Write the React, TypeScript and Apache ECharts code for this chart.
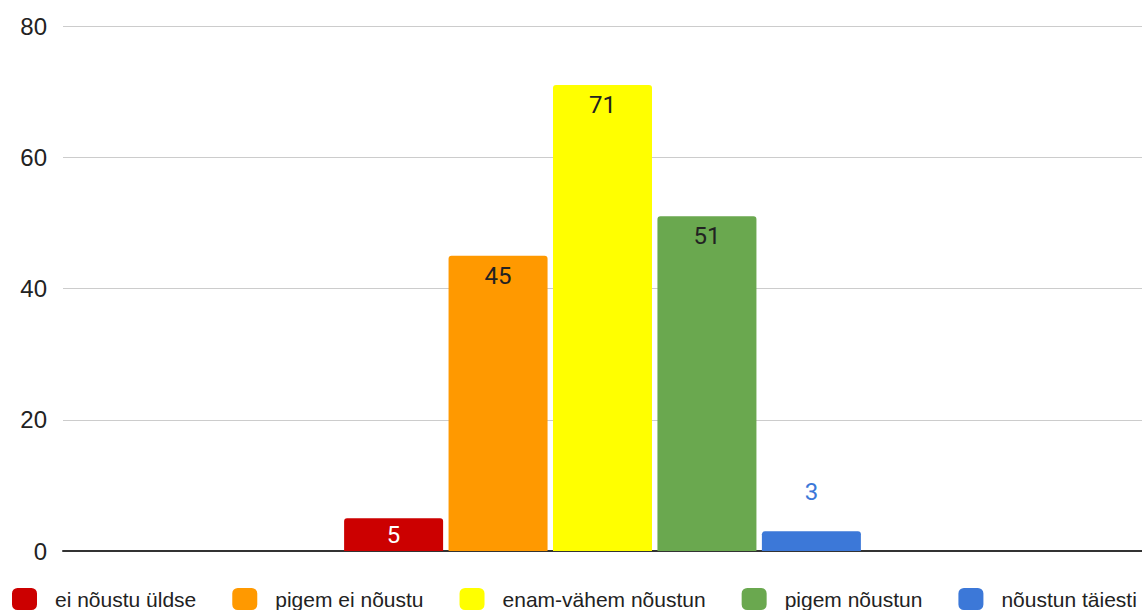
import React, { useEffect, useRef } from "react";
import * as echarts from "echarts";

const categories = [""];
const seriesNames = ["ei nõustu üldse", "pigem ei nõustu", "enam-vähem nõustun", "pigem nõustun", "nõustun täiesti"];
const seriesValues = [5, 45, 71, 51, 3];
const seriesColors = ["#cc0000", "#ff9900", "#ffff00", "#6aa84f", "#3c78d8"];
const labelColors = ["#ffffff", "#222222", "#222222", "#222222", "#3c78d8"];
const labelPositions = ["inside", "insideTop", "insideTop", "insideTop", "top"];

export default function App() {
  const ref = useRef<HTMLDivElement>(null);
  useEffect(() => {
    const chart = echarts.init(ref.current!, null, { renderer: "svg" });
    chart.setOption({
      animation: false,
      grid: { left: 63, right: 0, top: 26, bottom: 59 },
      legend: {
        top: 588,
        left: 12,
        padding: 0,
        itemWidth: 25,
        itemHeight: 22,
        itemGap: 36,
        icon: "roundRect",
        textStyle: { fontFamily: "'Liberation Sans', Arial, sans-serif", fontSize: 21, color: "#222", padding: [0, 0, 0, 13] },
        data: seriesNames,
      },
      xAxis: {
        type: "category",
        data: categories,
        axisLine: { lineStyle: { color: "#333", width: 2 } },
        axisTick: { show: false },
        axisLabel: { show: false },
      },
      yAxis: {
        type: "value",
        min: 0,
        max: 80,
        interval: 20,
        axisLine: { show: false },
        axisTick: { show: false },
        axisLabel: { fontFamily: "'Liberation Sans', Arial, sans-serif", fontSize: 24, color: "#222", margin: 16 },
        splitLine: { lineStyle: { color: "#cccccc", width: 1 } },
      },
      series: seriesNames.map((name, i) => ({
        name,
        type: "bar",
        data: [seriesValues[i]],
        barWidth: 99,
        barGap: "5.5%",
        itemStyle: { color: seriesColors[i], borderRadius: [3, 3, 0, 0] },
        label: {
          show: true,
          position: labelPositions[i],
          distance: labelPositions[i] === "top" ? 27 : 8,
          fontFamily: "Roboto",
          fontSize: 24,
          color: labelColors[i],
        },
      })),
    });
    return () => chart.dispose();
  }, []);
  return (
    <div
      ref={ref}
      style={{ position: "absolute", left: 0, top: 0, width: 1142, height: 610, overflow: "hidden" }}
    />
  );
}
